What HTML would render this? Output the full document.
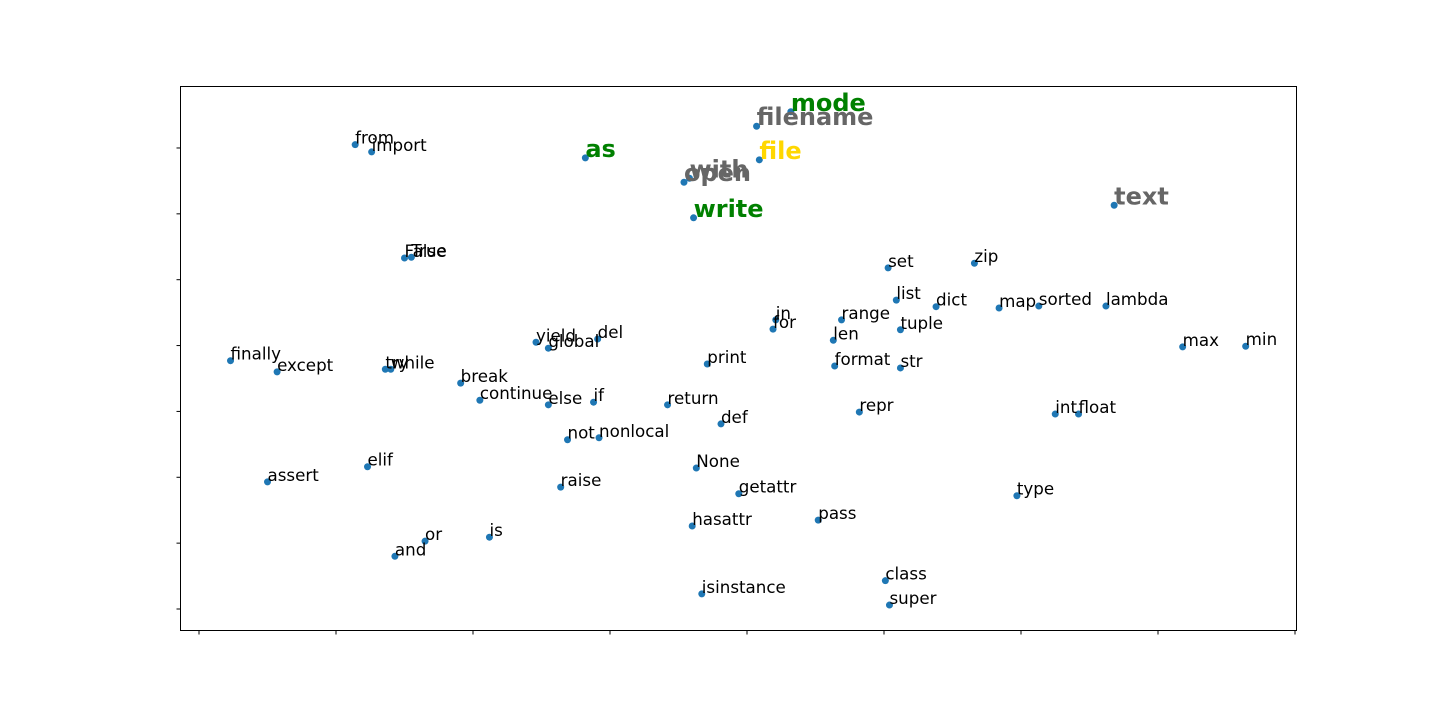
<!DOCTYPE html>
<html><head><meta charset="utf-8"><style>
html,body{margin:0;padding:0;background:#fff;}
svg{display:block;font-family:"DejaVu Sans","Liberation Sans",sans-serif;}
</style></head><body>
<svg id="chart" width="1440" height="720" viewBox="0 0 1440 720" xmlns="http://www.w3.org/2000/svg">
<rect x="180.5" y="86.5" width="1116" height="544" fill="#fff" stroke="#000" stroke-width="1"/>
<g id="ticks"></g>
<g id="points"></g>
<g id="labels"></g>
</svg>
<script>
const words = ["from","import","as","filename","mode","with","open","file","write","text","True","False","set","zip","list","dict","map","sorted","lambda","in","for","range","tuple","len","yield","del","global","finally","except","try","while","print","format","str","max","min","break","continue","else","if","return","repr","int","float","def","not","nonlocal","None","elif","assert","raise","getattr","type","pass","hasattr","is","or","and","class","super","isinstance"];
const xVals = [1.14,1.26,2.82,4.07,4.32,3.58,3.54,4.09,3.61,6.68,1.55,1.50,5.03,5.66,5.09,5.38,5.84,6.13,6.62,4.21,4.19,4.69,5.12,4.63,2.46,2.91,2.55,0.23,0.57,1.36,1.40,3.71,4.64,5.12,7.18,7.64,1.91,2.05,2.55,2.88,3.42,4.82,6.25,6.42,3.81,2.69,2.92,3.63,1.23,0.50,2.64,3.94,5.97,4.52,3.60,2.12,1.65,1.43,5.01,5.04,3.67];
const yVals = [7.05,6.94,6.85,7.33,7.55,6.54,6.48,6.82,5.94,6.13,5.34,5.33,5.18,5.25,4.69,4.59,4.57,4.60,4.60,4.39,4.25,4.39,4.24,4.08,4.05,4.10,3.96,3.77,3.60,3.64,3.64,3.72,3.69,3.66,3.98,3.99,3.43,3.17,3.10,3.14,3.10,2.99,2.96,2.96,2.81,2.57,2.60,2.14,2.16,1.93,1.85,1.75,1.72,1.35,1.26,1.09,1.03,0.80,0.43,0.06,0.23];
const highlightWords = ["as","filename","mode","with","open","file","write","text"];
const highlightColors = ["#008000","#666666","#008000","#666666","#666666","#ffd700","#008000","#666666"];
const xTicks = [0,1,2,3,4,5,6,7,8];
const yTicks = [0,1,2,3,4,5,6,7];

const NS="http://www.w3.org/2000/svg";
function xScale(v){return 199+v*137;}
function yScale(v){return 609-v*65.86;}
const tg=document.getElementById('ticks'), pg=document.getElementById('points'), lg=document.getElementById('labels');
xTicks.forEach(t=>{
  const l=document.createElementNS(NS,'line');
  
  
  l.setAttribute('x1',xScale(t));l.setAttribute('x2',xScale(t));
  l.setAttribute('y1',631);l.setAttribute('y2',634.5);l.setAttribute('stroke','#000');
  tg.appendChild(l);
});
yTicks.forEach(t=>{
  const l=document.createElementNS(NS,'line');
  
  
  l.setAttribute('x1',176.5);l.setAttribute('x2',180);
  l.setAttribute('y1',yScale(t));l.setAttribute('y2',yScale(t));l.setAttribute('stroke','#000');
  tg.appendChild(l);
});
words.forEach((w,i)=>{
  const cx=xScale(xVals[i]), cy=yScale(yVals[i]);
  const c=document.createElementNS(NS,'circle');
  
  
  c.setAttribute('cx',cx);c.setAttribute('cy',cy);c.setAttribute('r',3.5);c.setAttribute('fill','#1f77b4');
  pg.appendChild(c);
  const hi=highlightWords.indexOf(w);
  const t=document.createElementNS(NS,'text');
  
  
  t.setAttribute('x',cx);t.setAttribute('y',cy-1);
  if(hi>=0){t.setAttribute('font-size','24');t.setAttribute('font-weight','bold');t.setAttribute('fill',highlightColors[hi]);}
  else{t.setAttribute('font-size','16.7');t.setAttribute('fill','#000');}
  t.textContent=w;
  lg.appendChild(t);
});
</script>
</body></html>
